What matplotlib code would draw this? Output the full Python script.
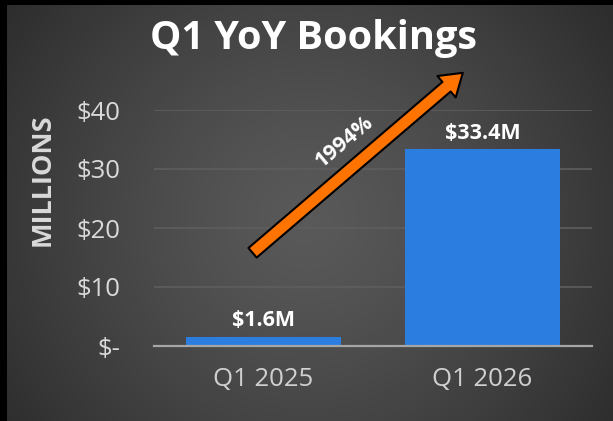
import numpy as np
import matplotlib
matplotlib.use("Agg")
import matplotlib.pyplot as plt

# chart data
categories = ["Q1 2025", "Q1 2026"]
bookings = [1.6, 33.4]
bar_labels = ["$1.6M", "$33.4M"]
yticks = [0, 10, 20, 30, 40]
ytick_labels = ["$-", "$10", "$20", "$30", "$40"]
growth_label = "1994%"

# arrow annotation, in data units
arrow_tail = (-0.05, 15.8)
arrow_tip = (0.91, 46.3)
growth_pos = (0.37, 34.6)

plt.rcParams['font.family'] = ['Open Sans', 'DejaVu Sans']

W, H = 613, 421
fig = plt.figure(figsize=(W / 100, H / 100), dpi=100)
fig.patch.set_facecolor("black")

# radial grey gradient background (black strip on left and top)
bg = fig.add_axes([7 / W, 0, 1 - 7 / W, 1 - 5 / H])
bg.set_axis_off()
yy, xx = np.mgrid[0:416, 0:606]
r = np.sqrt((xx - 300) ** 2 + (yy - 215) ** 2) / 380.0
shade = 0.35 - 0.18 * np.clip(r, 0, 1) ** 1.3
bg.imshow(np.dstack([shade, shade, shade]), aspect="auto", interpolation="bilinear")

ax = fig.add_axes([154 / W, (H - 346) / H, (592 - 154) / W, (346 - 110) / H])
ax.set_facecolor("none")

x = np.arange(len(categories))
ax.bar(x, bookings, width=0.71, color="#2b7de0", zorder=3)
for xi, v, lab in zip(x, bookings, bar_labels):
    ax.text(xi, v + 0.9, lab, ha="center", va="bottom", color="white",
            fontsize=15.5, fontweight="bold", zorder=4)

ax.set_xlim(-0.5, 1.5)
ax.set_ylim(0, 40)
ax.set_yticks(yticks)
ax.set_yticklabels(ytick_labels)
ax.set_xticks(x)
ax.set_xticklabels(categories)
ax.tick_params(axis="y", length=0, pad=24, labelsize=18.5, labelcolor="#d9d9d9")
ax.tick_params(axis="x", length=0, pad=15, labelsize=18.5, labelcolor="#d0d0d0")
ax.grid(axis="y", color="#5e5e5e", linewidth=1.2, zorder=0)
for s in ["top", "right", "left"]:
    ax.spines[s].set_visible(False)
ax.spines["bottom"].set_color("#a6a6a6")
ax.spines["bottom"].set_linewidth(1.6)
ax.spines["bottom"].set_zorder(5)

ax.annotate("", xy=arrow_tip, xytext=arrow_tail, annotation_clip=False,
            arrowprops=dict(arrowstyle="simple,head_width=1.45,head_length=1.1,tail_width=0.65",
                            mutation_scale=14, fc="#ff7300", ec="black", lw=1.5,
                            shrinkA=0, shrinkB=0))
ax.text(growth_pos[0], growth_pos[1], growth_label, rotation=40, rotation_mode="anchor",
        ha="center", va="center", color="white", fontsize=15.5, fontweight="bold", zorder=6)

fig.text(314 / W, 1 - 38 / H, "Q1 YoY Bookings", ha="center", va="center",
         color="white", fontsize=28.5, fontweight="bold")
fig.text(43 / W, 1 - 180 / H, "MILLIONS", rotation=90, ha="center", va="center",
         color="#d9d9d9", fontsize=19.5, fontweight="bold")

fig.savefig("out.png", dpi=100, facecolor=fig.get_facecolor())
